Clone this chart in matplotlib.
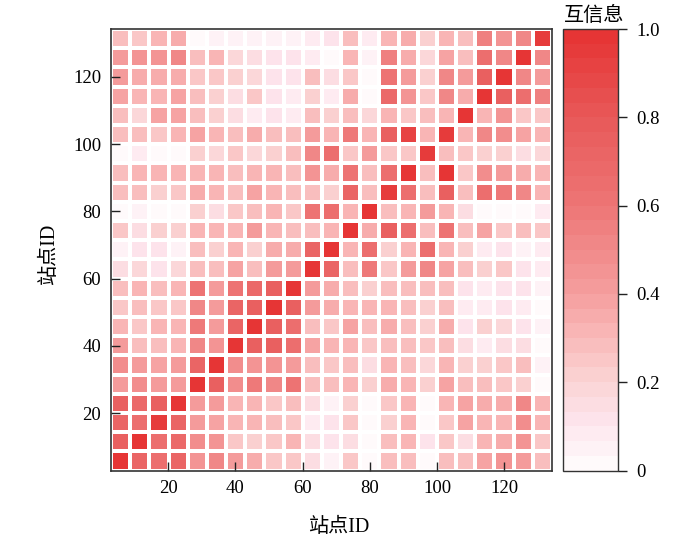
import numpy as np
import matplotlib
matplotlib.use('Agg')
import matplotlib.pyplot as plt
from matplotlib.colors import LinearSegmentedColormap

plt.rcParams['font.family'] = ['Liberation Serif', 'Noto Sans CJK SC', 'DejaVu Sans']

# mutual information, rows listed from the top of the picture down
mi_rows = [
    [.27, .25, .30, .36, .03, .04, .04, .05, .04, .04, .08, .11, .27, .09, .33, .36, .22, .33, .27, .55, .45, .53, .95],
    [.41, .45, .45, .53, .27, .30, .18, .15, .12, .11, .09, .03, .30, .04, .55, .34, .18, .38, .27, .64, .50, .98, .52],
    [.42, .34, .34, .36, .25, .25, .20, .18, .11, .11, .27, .15, .25, .03, .60, .42, .22, .50, .43, .76, .98, .50, .43],
    [.38, .31, .31, .39, .27, .22, .14, .24, .11, .09, .21, .09, .36, .03, .68, .45, .24, .52, .36, .97, .76, .66, .55],
    [.27, .18, .38, .39, .29, .22, .14, .09, .11, .07, .27, .21, .29, .18, .30, .24, .27, .30, .97, .32, .45, .25, .25],
    [.27, .27, .25, .31, .38, .30, .27, .34, .27, .27, .42, .31, .57, .33, .76, .92, .30, .94, .33, .53, .48, .38, .32],
    [.03, .09, .03, .03, .23, .18, .24, .18, .22, .29, .50, .66, .25, .41, .25, .25, .96, .27, .25, .22, .21, .15, .19],
    [.29, .30, .31, .31, .33, .31, .29, .31, .31, .29, .45, .34, .60, .29, .64, .97, .27, .97, .25, .47, .42, .34, .32],
    [.27, .27, .22, .24, .36, .31, .29, .39, .31, .29, .27, .21, .72, .27, .96, .64, .27, .76, .27, .66, .58, .50, .32],
    [.03, .04, .03, .03, .22, .14, .24, .27, .33, .25, .60, .66, .33, .97, .27, .30, .41, .30, .16, .03, .03, .03, .09],
    [.25, .16, .22, .22, .32, .30, .31, .41, .31, .27, .27, .32, .97, .36, .76, .64, .27, .60, .27, .38, .24, .27, .24],
    [.04, .11, .12, .06, .27, .23, .31, .22, .34, .34, .72, .97, .30, .64, .20, .31, .66, .31, .21, .09, .13, .05, .09],
    [.16, .18, .12, .18, .27, .27, .38, .27, .40, .42, .97, .72, .27, .57, .25, .40, .50, .39, .27, .20, .25, .12, .08],
    [.27, .32, .27, .30, .60, .43, .60, .68, .76, .97, .43, .36, .27, .22, .27, .27, .29, .27, .12, .08, .10, .11, .04],
    [.25, .27, .25, .25, .50, .43, .72, .76, .97, .76, .40, .36, .31, .32, .31, .27, .22, .27, .09, .08, .10, .08, .03],
    [.33, .25, .31, .31, .57, .43, .72, .97, .76, .66, .27, .24, .38, .27, .36, .29, .20, .34, .10, .23, .18, .12, .04],
    [.40, .27, .29, .32, .50, .45, .97, .76, .75, .64, .38, .31, .30, .24, .29, .27, .24, .29, .14, .08, .14, .16, .03],
    [.47, .42, .39, .42, .72, .97, .47, .45, .45, .43, .27, .25, .27, .14, .30, .27, .18, .31, .20, .21, .24, .27, .04],
    [.42, .47, .40, .43, .97, .76, .47, .57, .50, .60, .27, .27, .30, .21, .36, .30, .21, .38, .27, .29, .24, .23, .03],
    [.76, .68, .76, .97, .43, .40, .32, .30, .25, .27, .15, .06, .21, .03, .25, .30, .03, .30, .38, .36, .36, .50, .33],
    [.72, .66, .96, .72, .40, .39, .30, .30, .27, .25, .09, .11, .24, .03, .21, .30, .03, .24, .39, .32, .33, .47, .30],
    [.76, .97, .64, .68, .47, .45, .25, .22, .25, .32, .16, .11, .14, .03, .29, .30, .10, .25, .16, .30, .36, .45, .24],
    [.97, .72, .66, .72, .45, .50, .40, .34, .25, .24, .16, .04, .24, .03, .29, .29, .03, .27, .27, .38, .45, .42, .27],
]
id_ticks = [20, 40, 60, 80, 100, 120]
cbar_ticks = [0, 0.2, 0.4, 0.6, 0.8, 1.0]
cbar_labels = ['0', '0.2', '0.4', '0.6', '0.8', '1.0']

cmap = LinearSegmentedColormap.from_list(
    'mi_reds',
    [(0, '#FFFAFB'), (0.1, '#FDE4EC'), (0.2, '#FAD2D2'), (0.3, '#F9B8B8'),
     (0.4, '#F59E9E'), (0.5, '#F18A8A'), (0.6, '#EE7676'), (0.8, '#E85A5A'),
     (1.0, '#E63535')], N=30)

W, H = 700, 537
fig = plt.figure(figsize=(W / 100, H / 100), dpi=100)
ax = fig.add_axes([111 / W, 1 - 470.5 / H, 441 / W, 441.5 / H])
cax = fig.add_axes([563 / W, 1 - 470.5 / H, 54.5 / W, 441.5 / H])

# cells run about 5.7 IDs wide, from 3 to 134.2
edges = np.linspace(3, 134.2, 24)
mi = np.array(mi_rows)[::-1]
mesh = ax.pcolormesh(edges, edges, mi, cmap=cmap, vmin=0, vmax=1,
                     edgecolors='white', linewidth=2.6)

ax.set_xlim(3, 134.2)
ax.set_ylim(3, 134.2)
ax.set_xticks(id_ticks)
ax.set_yticks(id_ticks)
ax.tick_params(direction='in', length=6.5, width=1, labelsize=13.5, pad=7, color='#222222')
ax.set_xlabel('站点ID', fontsize=14.5)
ax.xaxis.set_label_coords(0.517, -0.108)
ax.set_ylabel('站点ID', fontsize=14.5)
ax.yaxis.set_label_coords(-0.118, 0.49)
for s in ax.spines.values():
    s.set_linewidth(1.2)
    s.set_color('#333333')

cb = fig.colorbar(mesh, cax=cax)
cb.set_ticks(cbar_ticks)
cb.set_ticklabels(cbar_labels)
cb.ax.tick_params(direction='out', length=6.5, width=1, labelsize=13.5, pad=7, color='#222222')
cb.outline.set_linewidth(1.0)
cb.outline.set_edgecolor('#333333')
cb.ax.set_title('互信息', fontsize=14.5, pad=6, x=0.58)

fig.savefig('out.png', dpi=100)
